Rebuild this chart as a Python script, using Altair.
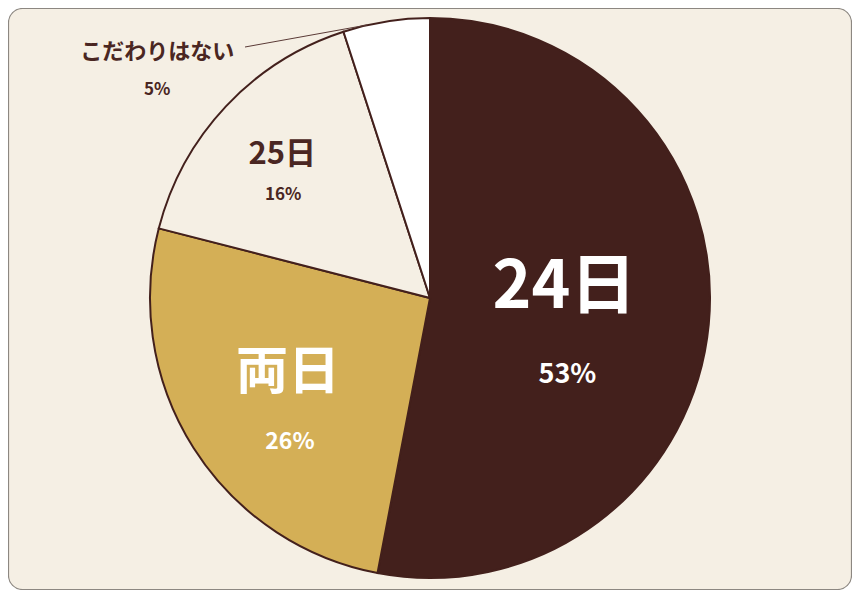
import math
import altair as alt
import pandas as pd

# ---- data ----
categories = ["24日", "両日", "25日", "こだわりはない"]
shares = [53, 26, 16, 5]
pct_labels = ["53%", "26%", "16%", "5%"]

# ---- styles ----
slice_colors = ["#43201c", "#d4af56", "#f5efe4", "#ffffff"]
DARK = "#43201c"
BG = "#f5efe4"
FONT = "Noto Sans CJK JP"

W, H = 844, 582
CX, CY, R = 422, 290, 280

df = pd.DataFrame({"cat": categories, "share": shares, "pct": pct_labels,
                   "idx": list(range(len(categories)))})
one = pd.DataFrame({"k": [0]})

theta_scale = alt.Scale(domain=[0, 100], range=[0, 2 * math.pi])

bg = alt.Chart(one).mark_rect(
    fill=BG, stroke="#8c8781", strokeWidth=1.2, cornerRadius=14
).encode(x=alt.value(0.5), x2=alt.value(W - 0.5), y=alt.value(0.5), y2=alt.value(H - 0.5))

arcs = alt.Chart(df).mark_arc(radius=R, stroke=DARK, strokeWidth=2).encode(
    theta=alt.Theta("share:Q", stack=True, scale=theta_scale),
    color=alt.Color("cat:N", scale=alt.Scale(domain=categories, range=slice_colors), legend=None),
    order=alt.Order("idx:Q"),
    x=alt.value(CX),
    y=alt.value(CY),
)

mid = alt.Chart(df).transform_window(
    cum="sum(share)", sort=[alt.SortField("idx")], frame=[None, 0]
).transform_calculate(mid="datum.cum - datum.share / 2")


def label(cat, field, radius, size, color, dx, dy):
    return mid.transform_filter(alt.datum.cat == cat).mark_text(
        radius=radius, fontSize=size, fontWeight="bold", color=color,
        dx=dx, dy=dy, font=FONT, align="center", baseline="middle",
    ).encode(
        theta=alt.Theta("mid:Q", scale=theta_scale),
        text=alt.Text(f"{field}:N"),
        x=alt.value(CX),
        y=alt.value(CY),
    )


labels = [
    label("24日", "cat", 135, 66, "white", 0, -23),
    label("24日", "pct", 135, 27, "white", 3, 64),
    label("両日", "cat", 160, 52, "white", -7, -11),
    label("両日", "pct", 160, 23, "white", -5, 58),
    label("25日", "cat", 200, 31, "#4a2622", -2, -6),
    label("25日", "pct", 200, 17, "#4a2622", -1, 34),
    label("こだわりはない", "cat", R, 22, "#4a2622", -229, 31),
    label("こだわりはない", "pct", R, 17, "#4a2622", -229, 69),
]

leader = alt.Chart(one).mark_rule(color="#5a3a36", strokeWidth=1).encode(
    x=alt.value(237), y=alt.value(39), x2=alt.value(359), y2=alt.value(17)
)

chart = alt.layer(bg, arcs, leader, *labels).properties(
    width=W, height=H, autosize="none", padding=0
).configure_view(strokeOpacity=0)

chart.save("out.html", embed_options={"renderer": "svg", "actions": False})
